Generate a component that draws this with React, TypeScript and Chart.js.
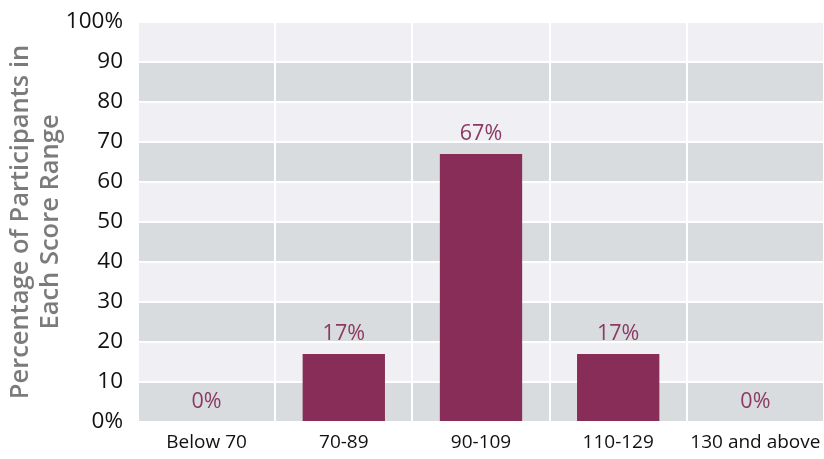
import React, { useEffect, useRef } from "react";
import { Chart, registerables } from "chart.js";

Chart.register(...registerables);

const categories = ["Below 70", "70-89", "90-109", "110-129", "130 and above"];
const percentages = [0, 17, 67, 17, 0];
const yTicks = [0, 10, 20, 30, 40, 50, 60, 70, 80, 90, 100];
const yTitle = ["Percentage of Participants in", "Each Score Range"];

const BAR = "#872d57";
const LABEL = "#8b3a63";
const BAND_DARK = "#d9dcdf";
const BAND_LIGHT = "#f0eff4";
const FONT = "'Open Sans', 'Noto Sans', sans-serif";

const bandsPlugin = {
  id: "bands",
  beforeDraw(chart: any) {
    const { ctx, chartArea } = chart;
    const y = chart.scales.y;
    ctx.save();
    for (let i = 0; i < yTicks.length - 1; i++) {
      const top = y.getPixelForValue(yTicks[i + 1]);
      const bottom = y.getPixelForValue(yTicks[i]);
      ctx.fillStyle = i % 2 === 0 ? BAND_DARK : BAND_LIGHT;
      ctx.fillRect(chartArea.left, top, chartArea.right - chartArea.left, bottom - top);
    }
    ctx.restore();
  },
};

const labelsPlugin = {
  id: "valueLabels",
  afterDatasetsDraw(chart: any) {
    const { ctx } = chart;
    const meta = chart.getDatasetMeta(0);
    ctx.save();
    ctx.fillStyle = LABEL;
    ctx.font = `21.5px ${FONT}`;
    ctx.textAlign = "center";
    ctx.textBaseline = "middle";
    meta.data.forEach((bar: any, i: number) => {
      ctx.fillText(`${percentages[i]}%`, bar.x, bar.y - 20);
    });
    ctx.restore();
  },
};

export default function App() {
  const ref = useRef<HTMLCanvasElement>(null);
  useEffect(() => {
    if (!ref.current) return;
    const chart = new Chart(ref.current, {
      type: "bar",
      data: {
        labels: categories,
        datasets: [
          {
            data: percentages,
            backgroundColor: BAR,
            barPercentage: 0.6,
            categoryPercentage: 1,
          },
        ],
      },
      options: {
        animation: false,
        responsive: false,
        maintainAspectRatio: false,
        layout: { padding: { top: 22, right: 0, left: 0, bottom: 0 } },
        plugins: { legend: { display: false }, tooltip: { enabled: false } },
        scales: {
          x: {
            offset: true,
            border: { display: false },
            grid: { color: "#ffffff", lineWidth: 2, offset: true, drawTicks: false },
            ticks: { color: "#111111", font: { family: FONT, size: 19 }, padding: 9, maxRotation: 0 },
            afterFit: (s: any) => {
              s.height = 37;
              s.paddingLeft = 0;
              s.paddingRight = 0;
            },
          },
          y: {
            min: 0,
            max: 100,
            border: { display: false },
            grid: { color: "#ffffff", lineWidth: 2, drawTicks: false },
            afterBuildTicks: (s: any) => {
              s.ticks = yTicks.map((v) => ({ value: v }));
            },
            ticks: {
              color: "#111111",
              font: { family: FONT, size: 22.5 },
              padding: 15,
              callback: (v: any) => (v === 0 || v === 100 ? `${v}%` : `${v}`),
            },
            title: {
              display: true,
              text: yTitle,
              color: "#7b7b7b",
              font: { family: FONT, size: 25.5, weight: "600", lineHeight: 1.2 },
              padding: { top: 5, bottom: 0 },
            },
            afterFit: (s: any) => {
              s.width = 138;
              s.paddingTop = 0;
              s.paddingBottom = 0;
            },
          },
        },
      },
      plugins: [bandsPlugin, labelsPlugin],
    });
    return () => chart.destroy();
  }, []);
  return (
    <div style={{ position: "fixed", left: 0, top: 0, width: 824, height: 459, background: "#fff" }}>
      <canvas ref={ref} width={824} height={459} style={{ display: "block" }} />
    </div>
  );
}
